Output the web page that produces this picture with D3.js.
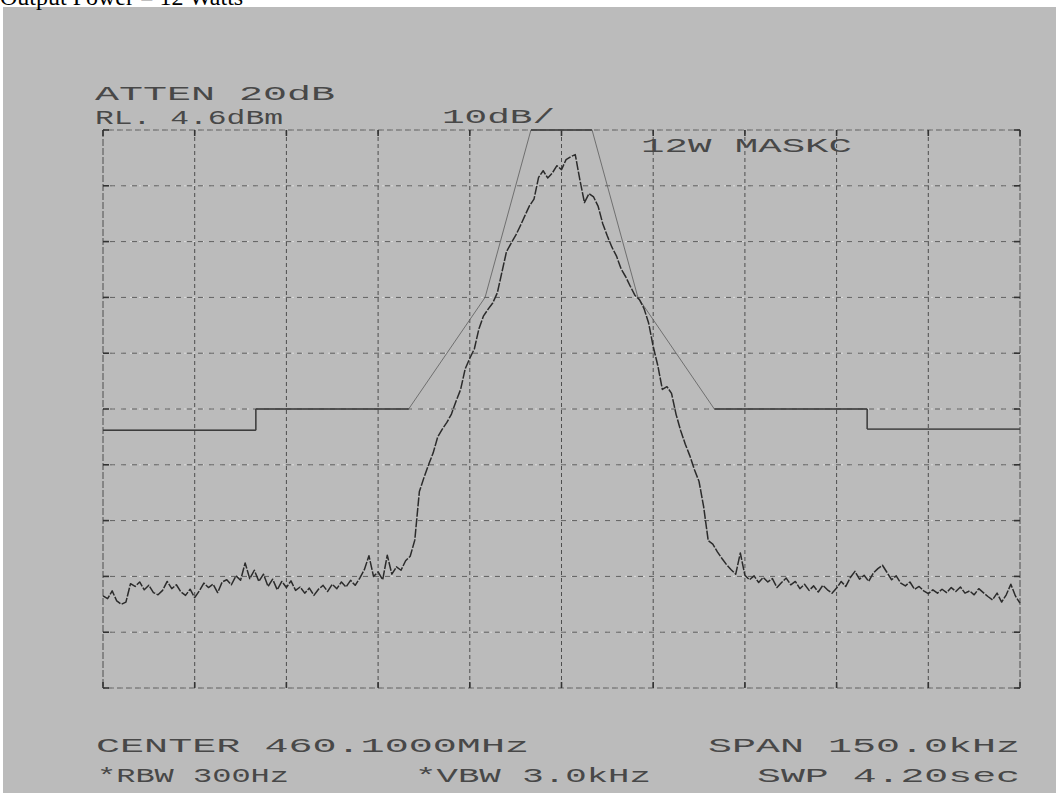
<!DOCTYPE html>
<html>
<head>
<meta charset="utf-8">
<script src="https://cdn.jsdelivr.net/npm/d3@7/dist/d3.min.js"></script>
<style>
  body { margin: 0; background: #fff; }
  svg { display: block; }
</style>
</head>
<body>
<script>
// spectrum analyser screen: 460.1 MHz centre, 150 kHz span, 10 dB/div
const gridKHz = [-75, -60, -45, -30, -15, 0, 15, 30, 45, 60, 75];
const gridDb = [0, -10, -20, -30, -40, -50, -60, -70, -80, -90, -100];

// 12 W emission mask (kHz offset, dB below reference)
const maskKHz = [-75, -50, -50, -25, -12.5, -5, 5, 12.5, 25, 50, 50, 75];
const maskDb = [-53.8, -53.8, -50, -50, -30, 0, 0, -30, -50, -50, -53.6, -53.6];

// measured trace, one reading every 0.75 kHz from -75 kHz
const traceStartKHz = -75;
const traceStepKHz = 0.75;
const traceDb = [
  -83.5, -84.0, -82.6, -84.4, -85.0, -84.6, -81.3, -81.8, -81.0, -82.4,
  -81.6, -82.9, -83.3, -82.5, -80.9, -82.2, -81.5, -82.8, -83.4, -82.3,
  -83.8, -82.6, -81.2, -82.0, -81.4, -82.9, -81.0, -80.6, -81.5, -79.9,
  -80.7, -77.6, -80.4, -78.9, -80.9, -79.6, -81.8, -80.5, -82.4, -80.9,
  -82.0, -80.8, -82.5, -81.9, -83.0, -82.1, -83.4, -82.3, -81.6, -82.7,
  -81.4, -82.2, -81.0, -81.9, -80.7, -81.6, -80.3, -78.8, -76.3, -80.0,
  -79.2, -80.6, -76.2, -79.6, -78.3, -78.9, -77.2, -76.4, -73.5, -64.8,
  -62.3, -60.0, -57.9, -55.0, -53.6, -52.4, -50.9, -48.6, -46.5, -42.8,
  -40.9, -39.2, -35.6, -33.3, -32.1, -31.0, -29.2, -25.5, -21.8, -20.3,
  -18.9, -17.2, -15.4, -13.6, -12.4, -8.5, -7.3, -8.6, -7.7, -6.4,
  -7.1, -5.3, -4.8, -4.4, -8.9, -13.0, -11.4, -12.0, -13.7, -16.8,
  -19.0, -21.0, -22.6, -24.9, -26.3, -28.0, -29.6, -30.4, -32.0, -34.6,
  -38.8, -42.2, -46.5, -46.0, -47.2, -51.0, -53.9, -56.3, -58.4, -60.9,
  -63.0, -67.5, -73.6, -74.2, -75.6, -76.8, -77.9, -78.8, -79.6, -75.8,
  -79.8, -80.6, -79.9, -81.1, -80.2, -81.0, -80.4, -82.0, -81.1, -80.3,
  -81.5, -80.9, -82.2, -81.4, -82.5, -81.7, -82.8, -81.6, -82.4, -83.0,
  -82.1, -80.9, -81.8, -80.2, -79.1, -80.5, -79.8, -80.9, -79.4, -78.6,
  -78.0, -79.3, -80.6, -79.9, -81.2, -81.7, -81.0, -82.3, -81.8, -82.6,
  -83.1, -82.4, -83.0, -82.3, -82.9, -82.0, -82.7, -81.9, -83.0, -82.6,
  -83.3, -82.2, -82.9, -83.6, -84.2, -83.0, -84.6, -83.3, -81.4, -83.5,
  -84.8
];

const width = 1062;
const height = 803;
const ink = "#484848";

let svg = d3.select("body")
  .append("svg")
  .attr("width", width)
  .attr("height", height);

// scanned paper
svg.append("rect")
  .attr("x", 3).attr("y", 7)
  .attr("width", 1053).attr("height", 786)
  .attr("fill", "#bbbbbb");

svg.append("text")
  .attr("x", 0).attr("y", 5)
  .style("font-family", "Liberation Serif")
  .style("font-size", "24px")
  .attr("fill", "#000")
  .text("Output Power = 12 Watts");

let x = d3.scaleLinear().domain([-75, 75]).range([103, 1020]);
let y = d3.scaleLinear().domain([0, -100]).range([130, 688]);

// graticule
let grid = svg.append("g").attr("id", "grid");

grid.selectAll("line.h-light")
  .data(gridDb)
  .enter()
  .append("line")
    .attr("class", "h-light")
    .attr("x1", x(-75)).attr("x2", x(75))
    .attr("y1", d => y(d)).attr("y2", d => y(d))
    .attr("stroke", "#dcdcdc")
    .attr("stroke-width", 1)
    .attr("stroke-dasharray", "2,7");

grid.selectAll("line.h")
  .data(gridDb)
  .enter()
  .append("line")
    .attr("class", "h")
    .attr("x1", x(-75)).attr("x2", x(75))
    .attr("y1", d => y(d)).attr("y2", d => y(d))
    .attr("stroke", "#5e5e5e")
    .attr("stroke-width", 1)
    .attr("stroke-dasharray", (d, i) => (i === 0 || i === gridDb.length - 1) ? "6,3" : "5,6")
    .attr("stroke-dashoffset", 4);

grid.selectAll("line.v")
  .data(gridKHz)
  .enter()
  .append("line")
    .attr("class", "v")
    .attr("y1", y(0)).attr("y2", y(-100))
    .attr("x1", d => x(d)).attr("x2", d => x(d))
    .attr("stroke", "#4e4e4e")
    .attr("stroke-width", 1)
    .attr("stroke-dasharray", (d, i) => (i === 0 || i === gridKHz.length - 1) ? "7,2" : "4,3");

// tick marks along the border
grid.selectAll("line.tx")
  .data(gridKHz)
  .enter()
  .append("line")
    .attr("x1", d => x(d)).attr("x2", d => x(d))
    .attr("y1", y(0)).attr("y2", y(0) + 6)
    .attr("stroke", "#333").attr("stroke-width", 1.6);

grid.selectAll("line.bx")
  .data(gridKHz)
  .enter()
  .append("line")
    .attr("x1", d => x(d)).attr("x2", d => x(d))
    .attr("y1", y(-100) - 6).attr("y2", y(-100))
    .attr("stroke", "#333").attr("stroke-width", 1.6);

grid.selectAll("line.ly")
  .data(gridDb)
  .enter()
  .append("line")
    .attr("x1", x(-75)).attr("x2", x(-75) + 6)
    .attr("y1", d => y(d)).attr("y2", d => y(d))
    .attr("stroke", "#333").attr("stroke-width", 1.6);

grid.selectAll("line.ry")
  .data(gridDb)
  .enter()
  .append("line")
    .attr("x1", x(75) - 6).attr("x2", x(75))
    .attr("y1", d => y(d)).attr("y2", d => y(d))
    .attr("stroke", "#333").attr("stroke-width", 1.6);

// mask: thin sloped sides, heavier flat steps on top of them
let maskPts = maskKHz.map((k, i) => [k, maskDb[i]]);
let line = d3.line().x(d => x(d[0])).y(d => y(d[1]));

svg.append("path")
  .datum(maskPts)
  .attr("d", line)
  .attr("fill", "none")
  .attr("stroke", "#666")
  .attr("stroke-width", 0.9);

let flatSegs = d3.pairs(maskPts).filter(p => p[0][1] === p[1][1] || p[0][0] === p[1][0]);
svg.selectAll("path.flat")
  .data(flatSegs)
  .enter()
  .append("path")
    .attr("class", "flat")
    .attr("d", line)
    .attr("fill", "none")
    .attr("stroke", "#3c3c3c")
    .attr("stroke-width", 1.4);

// trace
let tracePts = traceDb.map((v, i) => [traceStartKHz + i * traceStepKHz, v]);

svg.append("path")
  .datum(tracePts)
  .attr("d", line)
  .attr("fill", "none")
  .attr("stroke", "#2b2b2b")
  .attr("stroke-width", 1.5)
  .attr("stroke-linejoin", "round")
  .attr("stroke-dasharray", "9,1.5");

// annotations in the analyser's own lettering
const labels = [
  { t: "ATTEN 20dB", x: 95, y: 100, w: 240 },
  { t: "RL. 4.6dBm", x: 95, y: 124, w: 188 },
  { t: "10dB/", x: 442, y: 123, w: 113 },
  { t: "12W MASKC", x: 641, y: 152, w: 211 },
  { t: "CENTER 460.1000MHz", x: 96, y: 752, w: 433 },
  { t: "SPAN 150.0kHz", x: 708, y: 752, w: 312 },
  { t: "*RBW 300Hz", x: 97, y: 782, w: 192 },
  { t: "*VBW 3.0kHz", x: 415, y: 782, w: 236 },
  { t: "SWP 4.20sec", x: 757, y: 782, w: 263 }
];

svg.selectAll("text.lbl")
  .data(labels)
  .enter()
  .append("text")
    .attr("class", "lbl")
    .attr("x", d => d.x)
    .attr("y", d => d.y)
    .attr("textLength", d => d.w)
    .attr("lengthAdjust", "spacingAndGlyphs")
    .style("font-family", "Liberation Mono")
    .style("font-size", "21px")
    .attr("fill", ink)
    .text(d => d.t);
</script>
</body>
</html>
